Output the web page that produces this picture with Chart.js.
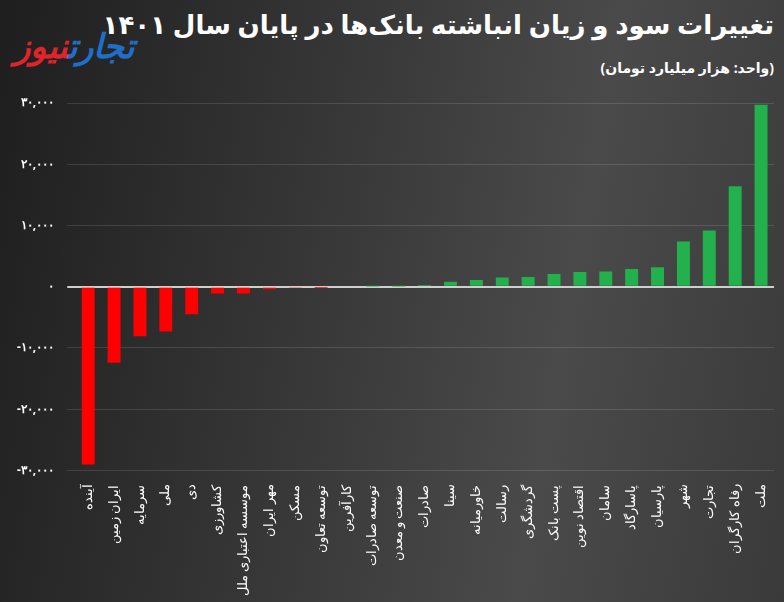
<!DOCTYPE html>
<html><head><meta charset="utf-8">
<script src="https://cdn.jsdelivr.net/npm/chart.js@4"></script>
<style>
html,body{margin:0;padding:0;width:784px;height:602px;overflow:hidden;}
body{background:linear-gradient(100deg,#1e1e1e 0%,#3a3a3a 45%,#4a4a4a 70%,#3a3a3a 100%);position:relative;font-family:"Noto Sans","DejaVu Sans",sans-serif;}
#title{position:absolute;right:10px;top:6px;color:#fff;font-size:26px;font-weight:bold;direction:rtl;}
#unit{position:absolute;right:10px;top:58px;color:#fff;font-size:14px;font-weight:bold;direction:rtl;}
#logo{position:absolute;left:14px;top:22px;font-size:34px;font-weight:900;font-style:italic;direction:rtl;}
#wrap{position:absolute;left:0;top:0;width:784px;height:602px;}
</style></head><body>
<div id="title">تغییرات سود و زیان انباشته بانک‌ها در پایان سال ۱۴۰۱</div>
<div id="unit">(واحد: هزار میلیارد تومان)</div>
<div id="logo"><span style="color:#1f6fc9">تجارت</span><span style="color:#e0242a">نیوز</span></div>
<div id="wrap"><canvas id="c" width="784" height="602"></canvas></div>
<script>
const categories=["آینده","ایران زمین","سرمایه","ملی","دی","کشاورزی","موسسه اعتباری ملل","مهر ایران","مسکن","توسعه تعاون","کارآفرین","توسعه صادرات","صنعت و معدن","صادرات","سینا","خاورمیانه","رسالت","گردشگری","پست بانک","اقتصاد نوین","سامان","پاسارگاد","پارسیان","شهر","تجارت","رفاه کارگران","ملت"];
const values=[-29000,-12400,-8100,-7300,-4500,-1100,-1100,-400,-200,-50,0,30,60,300,800,1100,1500,1600,2100,2400,2500,2900,3200,7400,9200,16400,29700];
const yTicks=[-30000,-20000,-10000,0,10000,20000,30000];
const fa=s=>String(s).replace(/\d/g,d=>"۰۱۲۳۴۵۶۷۸۹"[d]);
new Chart(document.getElementById('c'),{
type:'bar',
data:{labels:categories,datasets:[{data:values,
 backgroundColor:values.map(v=>v<0?'#ff0000':'#22b14c'),
 barPercentage:0.5,categoryPercentage:1}]},
options:{responsive:false,animation:false,
 layout:{padding:{top:103,right:10,left:4,bottom:0}},
 plugins:{legend:{display:false},tooltip:{enabled:false}},
 scales:{
  x:{grid:{display:false},border:{display:false},
     ticks:{color:'#fff',font:{size:12.5,family:'Noto Sans'},maxRotation:90,minRotation:90,autoSkip:false,padding:6}},
  y:{min:-30000,max:30000,afterBuildTicks:a=>{a.ticks=yTicks.map(v=>({value:v}));},
     border:{display:false},
     grid:{color:c=>c.tick&&c.tick.value===0?'#cfcfcf':'rgba(255,255,255,0.12)',lineWidth:c=>c.tick&&c.tick.value===0?2:1},
     ticks:{color:'#fff',font:{size:12,weight:'bold',family:'Noto Sans'},padding:13,
       callback:v=>v<0?'-'+fa(Math.abs(v).toLocaleString('en-US')):fa(v.toLocaleString('en-US'))}}
 }}
});
</script></body></html>
